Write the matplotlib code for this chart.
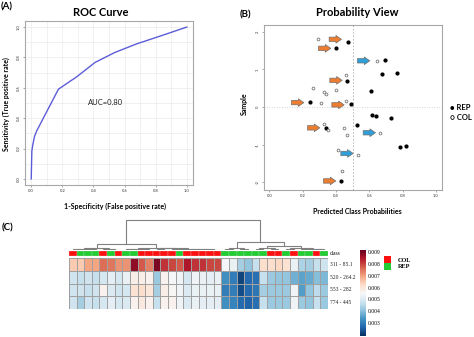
import matplotlib
matplotlib.use("Agg")
import matplotlib.pyplot as plt
import numpy as np
from matplotlib.colors import Normalize
from matplotlib.cm import ScalarMappable
from matplotlib.patches import Rectangle

# ----------------------------------------------------------------------------
# ROC curve
fpr = [0.0, 0.004, 0.009, 0.021, 0.036, 0.175, 0.293, 0.41, 0.538, 0.677, 0.827, 1.0]
tpr = [0.0, 0.184, 0.218, 0.28, 0.318, 0.591, 0.673, 0.767, 0.833, 0.889, 0.94, 1.0]
auc_label = "AUC=0.80"

# Probability view: (predicted probability, sample position)
rep_prob = [0.47, 0.40, 0.692, 0.674, 0.764, 0.468, 0.608, 0.242, 0.492, 0.618,
            0.64, 0.73, 0.528, 0.338, 0.786, 0.82, 0.432]
rep_pos = [1.72, 1.56, 1.26, 0.89, 0.91, 0.70, 0.44, 0.13, 0.07, -0.21,
           -0.23, -0.29, -0.47, -0.55, -1.07, -1.03, -1.96]
col_prob = [0.29, 0.644, 0.458, 0.26, 0.33, 0.34, 0.40, 0.31, 0.46, 0.326,
            0.352, 0.446, 0.666, 0.466, 0.412, 0.53, 0.436]
col_pos = [1.80, 1.23, 0.84, 0.51, 0.40, 0.36, 0.46, 0.12, 0.16, -0.44,
           -0.62, -0.55, -0.68, -0.73, -1.14, -1.26, -1.69]

# highlighted samples
orange_prob = [0.396, 0.332, 0.40, 0.17, 0.412, 0.266, 0.362]
orange_pos = [1.80, 1.56, 0.71, 0.12, 0.06, -0.55, -1.96]
blue_prob = [0.566, 0.60, 0.466]
blue_pos = [1.23, -0.68, -1.23]

# Heatmap of the four features
features = ["311 - 85.1", "520 - 264.2", "553 - 282", "774 - 445"]
row_311 = [0.0065, 0.0065, 0.0070, 0.0070, 0.0076, 0.0075, 0.0072, 0.0072, 0.0088, 0.0078,
           0.0074, 0.0090, 0.0082, 0.0080, 0.0078, 0.0085, 0.0082, 0.0082, 0.0080, 0.0080,
           0.0055, 0.0053, 0.0043, 0.0041, 0.0047, 0.0062, 0.0062, 0.0063, 0.0061, 0.0053,
           0.0044, 0.0043, 0.0047, 0.0048]
row_520 = [0.0048, 0.0047, 0.0048, 0.0047, 0.0049, 0.0052, 0.0049, 0.0053, 0.0058, 0.0058,
           0.0057, 0.0042, 0.0057, 0.0055, 0.0054, 0.0049, 0.0054, 0.0053, 0.0052, 0.0053,
           0.0033, 0.0030, 0.0022, 0.0027, 0.0028, 0.0047, 0.0042, 0.0041, 0.0041, 0.0038,
           0.0036, 0.0037, 0.0040, 0.0039]
row_553 = [0.0048, 0.0048, 0.0047, 0.0048, 0.0057, 0.0050, 0.0048, 0.0049, 0.0061, 0.0062,
           0.0060, 0.0043, 0.0058, 0.0056, 0.0054, 0.0050, 0.0053, 0.0053, 0.0053, 0.0053,
           0.0030, 0.0030, 0.0023, 0.0027, 0.0029, 0.0043, 0.0042, 0.0042, 0.0042, 0.0054,
           0.0035, 0.0041, 0.0046, 0.0042]
row_774 = [0.0048, 0.0043, 0.0048, 0.0047, 0.0049, 0.0052, 0.0049, 0.0050, 0.0057, 0.0059,
           0.0057, 0.0047, 0.0057, 0.0057, 0.0054, 0.0050, 0.0053, 0.0052, 0.0052, 0.0052,
           0.0033, 0.0031, 0.0027, 0.0026, 0.0028, 0.0047, 0.0042, 0.0042, 0.0042, 0.0054,
           0.0042, 0.0041, 0.0047, 0.0042]
sample_class = ["COL", "REP", "REP", "REP", "COL", "REP", "COL", "REP", "REP", "COL",
                "COL", "COL", "COL", "COL", "REP", "COL", "COL", "COL", "COL", "COL",
                "REP", "REP", "REP", "REP", "REP", "REP", "COL", "COL", "REP", "COL",
                "REP", "REP", "COL", "REP"]
cbar_ticks = [0.003, 0.004, 0.005, 0.006, 0.007, 0.008, 0.009]

# column dendrogram: [height, left, right], leaves are column indices
tree = [1.0,
        [0.20,
         [0.06, [0.03, [0.02, 0, 1], [0.02, 2, 3]], [0.025, 4, [0.015, 5, 6]]],
         [0.07, [0.04, [0.02, 7, 8], [0.02, 9, 10]],
          [0.05, [0.03, 11, 12],
           [0.035, [0.02, 13, 14], [0.025, [0.015, 15, 16], [0.02, 17, [0.01, 18, 19]]]]]]],
        [0.27,
         [0.05, [0.02, 20, 21], [0.03, 22, 23]],
         [0.12, [0.06, [0.03, 24, 25], [0.02, 26, 27]],
          [0.08, [0.03, 28, 29], [0.04, [0.02, 30, 31], [0.02, 32, 33]]]]]]

# ----------------------------------------------------------------------------

W, H = 474, 337
SANS = "Lato"
SERIF = "Liberation Serif"
plt.rcParams["font.family"] = SANS

fig = plt.figure(figsize=(W / 100, H / 100), dpi=100)


def px_axes(left, top, right, bottom):
    return fig.add_axes([left / W, 1 - bottom / H, (right - left) / W, (bottom - top) / H])


def fx(x):
    return x / W


def fy(y):
    return 1 - y / H


def style_box(ax):
    for s in ax.spines.values():
        s.set_color("#a8a8a8")
        s.set_linewidth(0.8)
    ax.tick_params(labelsize=3, length=1.5, width=0.4, color="#666666",
                   labelcolor="#333333", pad=1.5)


"""
(A) ROC curve
"""
ax_roc = px_axes(25, 21, 193, 185)
style_box(ax_roc)
ax_roc.set_xlim(-0.04, 1.04)
ax_roc.set_ylim(-0.04, 1.04)
grid = np.round(np.arange(0, 1.01, 0.1), 1)
for g in grid:
    ax_roc.axvline(g, color="#ececec", lw=0.5, zorder=0)
    ax_roc.axhline(g, color="#ececec", lw=0.5, zorder=0)
ticks = [0.0, 0.2, 0.4, 0.6, 0.8, 1.0]
ax_roc.set_xticks(ticks, [f"{t:.1f}" for t in ticks])
ax_roc.set_yticks(ticks, [f"{t:.1f}" for t in ticks], rotation=90, va="center")
ax_roc.plot(fpr, tpr, color="#5c5cd8", lw=1.0)
ax_roc.text(0.48, 0.506, auc_label, fontsize=5.5, ha="center", va="center", color="#222222")
fig.text(fx(101), fy(13), "ROC Curve", fontsize=8, fontweight="bold", ha="center", va="center")
fig.text(fx(115), fy(206), "1-Specificity (False positive rate)", fontsize=5,
         fontweight="bold", ha="center", va="center")
fig.text(fx(6), fy(104), "Sensitivity (True positive rate)", fontsize=5,
         fontweight="bold", ha="center", va="center", rotation=90)
fig.text(fx(1), fy(7), "(A)", fontsize=7, fontweight="bold", ha="left", va="center")

"""
(B) Probability view
"""
ax_pv = px_axes(264, 25, 442, 190)
style_box(ax_pv)
ax_pv.set_xlim(-0.032, 1.036)
ax_pv.set_ylim(-2.2, 2.18)
ax_pv.set_xticks(ticks, [f"{t:.1f}" for t in ticks])
ax_pv.set_yticks([2, 1, 0, -1, -2], ["2", "1", "0", "-1", "-2"], rotation=90, va="center")
ax_pv.axvline(0.5, color="#b0b0b0", lw=0.6, ls=(0, (2, 2)))
ax_pv.axhline(0.0, color="#c8c8c8", lw=0.6, ls=(0, (1, 2)))
ax_pv.scatter(rep_prob, rep_pos, s=4, color="black", zorder=3)
ax_pv.scatter(col_prob, col_pos, s=4, facecolor="white", edgecolor="#777777",
              linewidth=0.6, zorder=3)


def block_arrow(x, y, colour):
    ax_pv.annotate("", xy=(x + 0.037, y), xytext=(x - 0.037, y),
                   arrowprops=dict(arrowstyle="simple,head_width=0.55,head_length=0.4,tail_width=0.32",
                                   fc=colour, ec="#707070", lw=0.5,
                                   shrinkA=0, shrinkB=0, mutation_scale=10),
                   zorder=4)


for x, y in zip(orange_prob, orange_pos):
    block_arrow(x, y, "#ed7d31")
for x, y in zip(blue_prob, blue_pos):
    block_arrow(x, y, "#2f9fd8")

fig.text(fx(357), fy(13), "Probability View", fontsize=8, fontweight="bold",
         ha="center", va="center")
fig.text(fx(357), fy(212), "Predicted Class Probabilities", fontsize=5,
         fontweight="bold", ha="center", va="center")
fig.text(fx(244), fy(104), "Sample", fontsize=5, fontweight="bold",
         ha="center", va="center", rotation=90)
fig.text(fx(240), fy(15), "(B)", fontsize=7, fontweight="bold", ha="left", va="center")
fig.text(fx(450), fy(108), "\u25cf REP", fontsize=5.5, fontweight="bold", ha="left", va="center",
         family=[SANS, "DejaVu Sans"])
fig.text(fx(450), fy(117), "\u25cb COL", fontsize=5.5, fontweight="bold", ha="left", va="center",
         family=[SANS, "DejaVu Sans"])

"""
(C) Heatmap with class bar and column dendrogram
"""
values = np.array([row_311, row_520, row_553, row_774])
n_cols = values.shape[1]
cmap = plt.get_cmap("RdBu_r")
norm = Normalize(vmin=0.0019, vmax=0.0092)

ax_hm = px_axes(69, 258, 328, 309)
ax_hm.pcolormesh(np.arange(n_cols + 1), np.arange(len(features) + 1), values,
                 cmap=cmap, norm=norm, edgecolors="#a0a0a0", linewidth=0.5)
ax_hm.set_xlim(0, n_cols)
ax_hm.set_ylim(len(features), 0)
ax_hm.axis("off")
for i, name in enumerate(features):
    ax_hm.text(n_cols + 0.2, i + 0.5, name, fontsize=4, family=SERIF,
               ha="left", va="center", color="#222222")

class_colour = {"COL": "#ff1010", "REP": "#22cc33"}
ax_cls = px_axes(69, 250.5, 328, 256)
for i, c in enumerate(sample_class):
    ax_cls.add_patch(Rectangle((i, 0), 1, 1, facecolor=class_colour[c],
                               edgecolor="#d0d0d0", linewidth=0.2))
ax_cls.set_xlim(0, n_cols)
ax_cls.set_ylim(0, 1)
ax_cls.axis("off")
ax_cls.text(n_cols + 0.2, 0.5, "class", fontsize=4, family=SERIF, ha="left", va="center")

ax_dn = px_axes(69, 218, 328, 250)
ax_dn.set_xlim(0, n_cols)
ax_dn.set_ylim(0, 1.05)
ax_dn.axis("off")


def draw_node(node):
    if not isinstance(node, list):
        return node + 0.5, 0.0
    h, left, right = node
    xl, hl = draw_node(left)
    xr, hr = draw_node(right)
    ax_dn.plot([xl, xl, xr, xr], [hl, h, h, hr], color="#808080", lw=0.8,
               solid_joinstyle="miter")
    return (xl + xr) / 2, h


draw_node(tree)

cax = px_axes(360, 250, 366, 336)
cb = fig.colorbar(ScalarMappable(norm=norm, cmap=cmap), cax=cax, ticks=cbar_ticks)
cb.outline.set_visible(False)
cb.ax.tick_params(length=0, pad=1.5, labelsize=4)
cb.ax.set_yticklabels([f"{t:.3f}" for t in cbar_ticks], family=SERIF)

# class legend
for j, (c, y0) in enumerate([("COL", 256), ("REP", 263)]):
    fig.add_artist(Rectangle((fx(384), fy(y0 + 7)), 7 / W, 7 / H, transform=fig.transFigure,
                             facecolor=class_colour[c], edgecolor="none"))
    fig.text(fx(398), fy(y0 + 4), c, fontsize=4.5, family=SERIF, fontweight="bold",
             ha="left", va="center")

fig.text(fx(2), fy(228), "(C)", fontsize=7, fontweight="bold", ha="left", va="center")

fig.savefig("out.png", dpi=100)
